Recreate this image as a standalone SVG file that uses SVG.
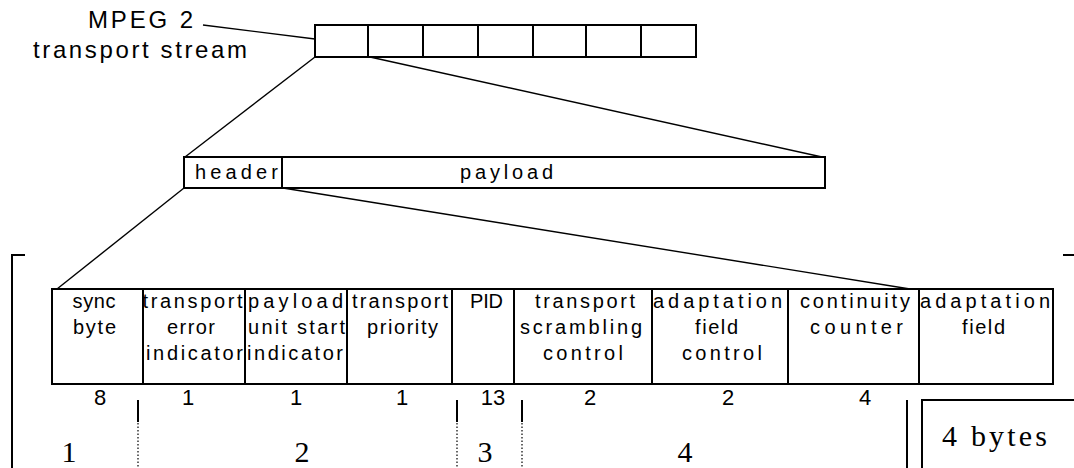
<svg xmlns="http://www.w3.org/2000/svg" width="1074" height="468" viewBox="0 0 1074 468">
<style>
.box{fill:#fff;stroke:#000;stroke-width:2}
.div{stroke:#000;stroke-width:2;fill:none}
.conn{stroke:#000;stroke-width:1.4;fill:none}
.t{font-family:"Liberation Sans",Arial,sans-serif;font-size:20px;fill:#000;text-anchor:middle}
.lbl{font-family:"Liberation Sans",Arial,sans-serif;font-size:24px;fill:#000}
.num{font-family:"Liberation Sans",Arial,sans-serif;font-size:22px;fill:#000;text-anchor:middle}
.big{font-family:"Liberation Serif","Times New Roman",serif;font-size:30px;fill:#000;text-anchor:middle}
.mark{stroke:#000;stroke-width:2;fill:none}
.dot{stroke:#000;stroke-width:1.2;stroke-dasharray:1.5 2;fill:none}
</style>
<rect width="1074" height="468" fill="#fff"/>

<g id="label-mpeg">
<text class="lbl" x="88" y="28" textLength="105" lengthAdjust="spacing">MPEG 2</text>
<text class="lbl" x="33" y="58" textLength="214" lengthAdjust="spacing">transport stream</text>
</g>

<g id="connectors">
<line class="conn" x1="203" y1="25" x2="315" y2="39"/>
<line class="conn" x1="315" y1="57" x2="185" y2="157"/>
<line class="conn" x1="370" y1="57" x2="822" y2="157"/>
<line class="conn" x1="184" y1="188" x2="57" y2="289"/>
<line class="conn" x1="283" y1="188" x2="910" y2="289"/>
</g>

<g id="transport-stream">
<rect class="box" x="315" y="25" width="381" height="32"/>
<path class="div" d="M368 25V57M423 25V57M478 25V57M533 25V57M586 25V57M641 25V57"/>
</g>

<g id="packet">
<rect class="box" x="184" y="157" width="641" height="31"/>
<line class="div" x1="282" y1="157" x2="282" y2="188"/>
<text class="t" x="236.5" y="179" textLength="83" lengthAdjust="spacing">header</text>
<text class="t" x="506.5" y="179" textLength="93" lengthAdjust="spacing">payload</text>
</g>

<g id="header-fields">
<rect class="box" x="52" y="289" width="1001" height="95"/>
<path class="div" d="M143 289V384M245 289V384M347 289V384M452 289V384M514 289V384M652 289V384M788 289V384M919 289V384"/>
</g>

<g id="field-sync">
<text class="t" x="94" y="308" textLength="43" lengthAdjust="spacing">sync</text>
<text class="t" x="94.5" y="334" textLength="43" lengthAdjust="spacing">byte</text>
<text class="num" x="100" y="405">8</text>
</g>
<g id="field-tei">
<text class="t" x="192.5" y="308" textLength="100" lengthAdjust="spacing">transport</text>
<text class="t" x="191" y="334" textLength="48" lengthAdjust="spacing">error</text>
<text class="t" x="194.5" y="360" textLength="97" lengthAdjust="spacing">indicator</text>
<text class="num" x="188" y="405">1</text>
</g>
<g id="field-pusi">
<text class="t" x="295.5" y="308" textLength="95" lengthAdjust="spacing">payload</text>
<text class="t" x="296.5" y="334" textLength="97" lengthAdjust="spacing">unit start</text>
<text class="t" x="295" y="360" textLength="96" lengthAdjust="spacing">indicator</text>
<text class="num" x="296" y="405">1</text>
</g>
<g id="field-priority">
<text class="t" x="400" y="308" textLength="96" lengthAdjust="spacing">transport</text>
<text class="t" x="402.5" y="334" textLength="71" lengthAdjust="spacing">priority</text>
<text class="num" x="402" y="405">1</text>
</g>
<g id="field-pid">
<text class="t" x="486.5" y="308" textLength="33" lengthAdjust="spacing">PID</text>
<text class="num" x="493" y="405">13</text>
</g>
<g id="field-scrambling">
<text class="t" x="585" y="308" textLength="100" lengthAdjust="spacing">transport</text>
<text class="t" x="581" y="334" textLength="122" lengthAdjust="spacing">scrambling</text>
<text class="t" x="583" y="360" textLength="80" lengthAdjust="spacing">control</text>
<text class="num" x="590" y="405">2</text>
</g>
<g id="field-afc">
<text class="t" x="717.5" y="308" textLength="129" lengthAdjust="spacing">adaptation</text>
<text class="t" x="716.5" y="334" textLength="43" lengthAdjust="spacing">field</text>
<text class="t" x="722" y="360" textLength="80" lengthAdjust="spacing">control</text>
<text class="num" x="728" y="405">2</text>
</g>
<g id="field-cc">
<text class="t" x="855" y="308" textLength="110" lengthAdjust="spacing">continuity</text>
<text class="t" x="856.5" y="334" textLength="93" lengthAdjust="spacing">counter</text>
<text class="num" x="865" y="405">4</text>
</g>
<g id="field-af">
<text class="t" x="985" y="308" textLength="130" lengthAdjust="spacing">adaptation</text>
<text class="t" x="983.5" y="334" textLength="43" lengthAdjust="spacing">field</text>
</g>

<g id="brackets">
<path class="mark" d="M25 255H12V468"/>
<line class="mark" x1="1063" y1="255" x2="1074" y2="255"/>
<path class="mark" d="M138 400V422M457 400V422M522 400V422"/>
<path class="dot" d="M138 423V468M457 423V468M522 423V468"/>
<line class="mark" x1="907" y1="400" x2="907" y2="468"/>
</g>

<g id="groups">
<text class="big" x="69" y="462">1</text>
<text class="big" x="302" y="462">2</text>
<text class="big" x="485" y="462">3</text>
<text class="big" x="685" y="462">4</text>
</g>

<g id="four-bytes">
<rect class="box" x="922" y="400" width="200" height="100"/>
<text class="big" x="994.5" y="446" font-size="32" textLength="105" lengthAdjust="spacing">4 bytes</text>
</g>
</svg>
